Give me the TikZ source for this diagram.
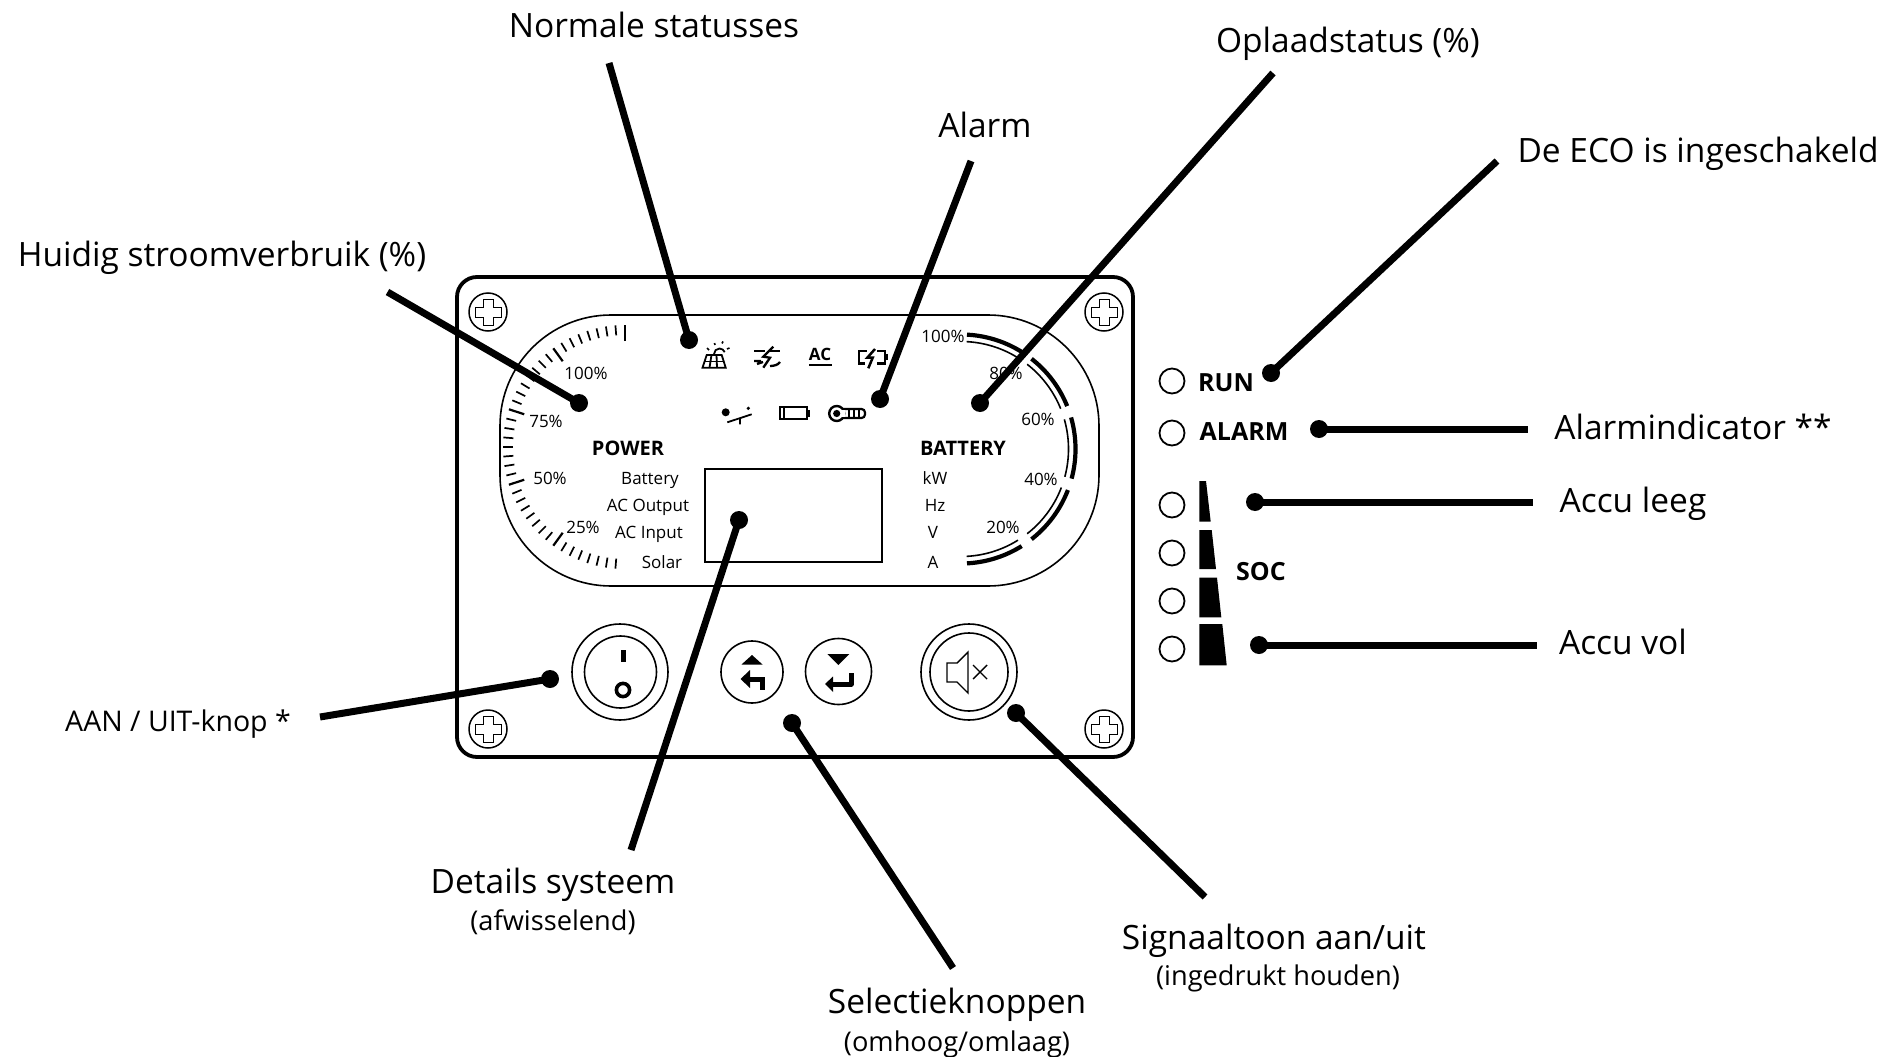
\documentclass[tikz,border=0pt]{standalone}
\usepackage{fontspec}
\setmainfont{Open Sans}
\newcommand{\fsz}[1]{\fontsize{#1}{#1}\selectfont}
\tikzset{
 x=1pt,y=-1pt,
 every node/.style={inner sep=0pt,outer sep=0pt,text=black},
 biglabel/.style={font=\fsz{33.5}},
 sublabel/.style={font=\fsz{27.2}},
 midlabel/.style={font=\fsz{28.5}},
 gaugelabel/.style={font=\fsz{17}},
 boldgauge/.style={font=\fsz{20}\bfseries},
 ledlabel/.style={font=\fsz{25}\bfseries},
 conn/.style={line width=7pt,black},
 anchordot/.style={circle,fill=black,minimum size=18pt},
 led/.style={circle,draw=black,line width=1.8pt,minimum size=25pt},
 thin line/.style={line width=1.6pt,black},
 icon/.style={line width=1.8pt,black},
 iconb/.style={line width=2.5pt,black},
 screwhead/.style={circle,draw=black,line width=1.5pt,minimum size=38pt},
 crossline/.style={line width=0.9pt,black},
 tick/.style={line width=1.7pt,black},
 majortick/.style={line width=2.2pt,black},
 thick arc/.style={line width=4.2pt,black},
 thin arc/.style={line width=1.6pt,black},
}
\newcommand{\crossat}[2]{\draw[crossline,shift={(#1,#2)}] (-5,-13)--(5,-13)--(5,-5)--(13,-5)--(13,5)--(5,5)--(5,13)--(-5,13)--(-5,5)--(-13,5)--(-13,-5)--(-5,-5)--cycle;}
\newcommand{\battarc}[2]{%
 \draw[thick arc] plot[domain=#1:#2,samples=30,smooth] ({961+114.5*cos(\x)},{449-114.5*sin(\x)});
 \draw[thin arc] plot[domain=#1:#2,samples=30,smooth] ({961+107.5*cos(\x)},{449-107.5*sin(\x)});}
\begin{document}
\begin{tikzpicture}
\useasboundingbox (0,0) rectangle (1899,1057);
\fill[white] (0,0) rectangle (1899,1057);
% panel
\draw[line width=3.8pt,rounded corners=20pt] (457,277) rectangle (1133,757);
\draw[thin line,rounded corners=111pt] (500,315) rectangle (1099,586);
% screws
\node[screwhead] (s1) at (488,312) {}; \crossat{488}{312}
\node[screwhead] (s2) at (1104,312) {}; \crossat{1104}{312}
\node[screwhead] (s3) at (488,729) {}; \crossat{488}{729}
\node[screwhead] (s4) at (1104,729) {}; \crossat{1104}{729}
% power ticks
\foreach \i in {0,...,39}{
  \pgfmathsetmacro{\a}{90+4.5*\i}
  \pgfmathtruncatemacro{\m}{mod(\i,8)}
  \ifnum\m=0
    \draw[majortick] ({625+106*cos(\a)},{447-106*sin(\a)}) -- ({625+122*cos(\a)},{447-122*sin(\a)});
  \else
    \draw[tick] ({625+112*cos(\a)},{447-112*sin(\a)}) -- ({625+122*cos(\a)},{447-122*sin(\a)});
  \fi
}
% battery arcs
\battarc{87}{58}\battarc{52}{22}\battarc{16}{-15}\battarc{-21}{-52}\battarc{-58}{-87}
% gauge labels
\node[gaugelabel] (p100) at (586,373) {100\%};
\node[gaugelabel] (p75) at (546,421) {75\%};
\node[gaugelabel] (p50) at (550,478) {50\%};
\node[gaugelabel] (p25) at (583,527) {25\%};
\node[boldgauge] (power) at (628,448) {POWER};
\node[gaugelabel] (lbat) at (650,480) {Battery};
\node[gaugelabel] (lout) at (648,507) {AC Output};
\node[gaugelabel] (linp) at (649,534) {AC Input};
\node[gaugelabel] (lsol) at (662,562) {Solar};
\node[boldgauge] (battery) at (963,448) {BATTERY};
\node[gaugelabel] (ukw) at (935,478) {kW};
\node[gaugelabel] (uhz) at (935,505) {Hz};
\node[gaugelabel] (uv) at (933,532) {V};
\node[gaugelabel] (ua) at (933,562) {A};
\node[gaugelabel] (b100) at (943,336) {100\%};
\node[gaugelabel] (b60) at (1038,419) {60\%};
\node[gaugelabel] (b40) at (1041,479) {40\%};
\node[gaugelabel] (b20) at (1003,527) {20\%};
\node[gaugelabel] (b80) at (1006,373) {80\%};
% display
\draw[line width=1.9pt] (705,469) rectangle (882,562);
% solar icon
\draw[icon] (702.5,367.7)--(725.7,367.7)--(721.7,355)--(706.7,355)--cycle;
\draw[icon] (704.5,361.5)--(723.7,361.5);
\draw[icon] (711.5,355)--(709.5,367.7) (716.5,355)--(717,367.7);
\draw[icon] (714,354) arc[start angle=180,end angle=20,radius=5.5pt];
\draw[line width=1.6pt] (709,350)--(707,348) (715,345)--(714.5,343) (722,343.5)--(723,341.5) (727,349)--(729.5,348);
% inverter icon
\draw[iconb,line width=2.3pt] (754.3,351)--(765,351) (770,351)--(780,351);
\draw[iconb,line width=2.3pt] (773.3,346.7)--(763.3,356.7)--(770,357.7)--(763.3,367.7);
\draw[iconb,line width=2.3pt] (754,361)--(761,361) (757,364)--(763,362);
\draw[iconb,line width=2.3pt] (770,366) .. controls (774,366) and (778,365) .. (780,362);
% AC icon
\node[font=\fsz{17}\bfseries] (acicon) at (820,354) {AC};
\draw[line width=2.5pt] (809,365)--(831.7,365);
% charging icon
\draw[iconb] (866.7,351)--(859,351)--(859,363.3)--(865,363.3);
\draw[iconb] (877.3,351)--(885,351)--(885,363.3)--(877,363.3);
\fill (885.5,354) rectangle (888,360);
\draw[iconb] (875,349)--(867.3,357.7)--(872.7,357.7)--(868.3,368.3);
% lever icon
\fill (725.7,412.3) circle (4pt);
\fill (748.3,408.3) circle (1.8pt);
\draw[icon] (727.3,422.3)--(751.7,414.3) (740,419)--(740,424.3);
% battery icon
\draw[line width=1.8pt] (780,407) rectangle (806.7,419);
\draw[line width=1.2pt] (784,407)--(784,419);
\fill (806.7,409.7) rectangle (810,417);
% thermometer icon
\draw[line width=2.2pt,rounded corners=3.5pt] (838,409) rectangle (865,418);
\node[circle,draw,fill=white,line width=2.4pt,minimum size=15pt] (tbulb) at (836.7,413.5) {};
\fill (836.7,413.5) circle (3.6pt);
\fill[white] (841,410) rectangle (844.6,417);
\draw[line width=1.3pt] (849,410)--(849,417) (854,410)--(854,417) (859,410)--(859,417);
% power button
\node[circle,draw,line width=1.6pt,minimum size=96pt] (bonout) at (620,672) {};
\node[circle,draw,line width=1.6pt,minimum size=72pt] (bonin) at (620.5,672) {};
\draw[line width=5pt] (623,650)--(623,662);
\draw[line width=3.6pt] (623,690) circle (6.6pt);
% back button
\node[circle,draw,line width=1.6pt,minimum size=62pt] (bback) at (752,672) {};
\fill (752,655)--(762.5,664.5)--(741.5,664.5)--cycle;
\fill (740.5,679)--(750,670)--(750,688)--cycle;
\draw[line width=5pt] (750,679)--(762,679)--(762,690);
% enter button
\node[circle,draw,line width=1.6pt,minimum size=66pt] (benter) at (838.5,671.5) {};
\fill (827.3,654)--(849.3,654)--(838.3,665)--cycle;
\fill (825,684)--(833,676.5)--(833,692)--cycle;
\draw[line width=5pt,line join=round] (833,684)--(851,684)--(851,673);
% sound button
\node[circle,draw,line width=1.6pt,minimum size=96pt] (bsndout) at (969,672) {};
\node[circle,draw,line width=1.6pt,minimum size=78pt] (bsndin) at (969,672) {};
\draw[line width=1.4pt] (947,663)--(957,663)--(968,652)--(968,693)--(957,682)--(947,682)--cycle;
\draw[line width=1.4pt] (973,665)--(987,679) (987,665)--(973,679);
% LEDs
\node[led] (l1) at (1172,381) {};
\node[led] (l2) at (1172,433) {};
\node[led] (l3) at (1172,505) {};
\node[led] (l4) at (1172,553) {};
\node[led] (l5) at (1172,601) {};
\node[led] (l6) at (1172,649) {};
\node[ledlabel] (run) at (1226,383) {RUN};
\node[ledlabel] (alarm) at (1244,432) {ALARM};
\node[ledlabel] (soc) at (1261,572) {SOC};
% wedges
\fill (1199.3,481)--(1206,481)--(1210.7,521.7)--(1199.3,521.7)--cycle;
\fill (1199.3,530)--(1211.7,530)--(1216,569)--(1199.3,569)--cycle;
\fill (1199.3,577.7)--(1217,577.7)--(1221.3,617.3)--(1199.3,617.3)--cycle;
\fill (1199.3,624)--(1222.3,624)--(1226.7,665.3)--(1199.3,665.3)--cycle;
% connector anchors and free ends
\node[anchordot] (dnorm) at (689,340) {};   \coordinate (enorm) at (609,63);
\node[anchordot] (dcur) at (579,403) {};    \coordinate (ecur) at (387.5,292);
\node[anchordot] (dalarm) at (880,399) {};  \coordinate (ealarm) at (971,161);
\node[anchordot] (dsoc) at (980,403) {};    \coordinate (esoc) at (1273,73);
\node[anchordot] (deco) at (1271,373) {};   \coordinate (eeco) at (1497,161);
\node[anchordot] (dind) at (1319,429) {};   \coordinate (eind) at (1528,429);
\node[anchordot] (dempty) at (1255,502) {}; \coordinate (eempty) at (1533,502);
\node[anchordot] (dfull) at (1259,645) {};  \coordinate (efull) at (1537,645);
\node[anchordot] (dpow) at (550,679) {};    \coordinate (epow) at (320,717);
\node[anchordot] (ddet) at (739,520) {};    \coordinate (edet) at (631,850);
\node[anchordot] (dsel) at (792,723) {};    \coordinate (esel) at (953,968);
\node[anchordot] (dsnd) at (1016,713) {};   \coordinate (esnd) at (1205,897);
\foreach \d/\e in {dnorm/enorm,dcur/ecur,dalarm/ealarm,dsoc/esoc,deco/eeco,dind/eind,dempty/eempty,dfull/efull,dpow/epow,ddet/edet,dsel/esel,dsnd/esnd}
  \draw[conn] (\d.center) -- (\e);
% labels
\node[biglabel] (tnorm) at (654,25) {Normale statusses};
\node[biglabel] (topl) at (1348,44) {Oplaadstatus (\%)};
\node[biglabel] (talarm) at (985,125) {Alarm};
\node[biglabel] (teco) at (1698,154) {De ECO is ingeschakeld};
\node[biglabel] (tcur) at (222,258) {Huidig stroomverbruik (\%)};
\node[biglabel] (tind) at (1693,427) {Alarmindicator **};
\node[biglabel] (tempty) at (1633,504) {Accu leeg};
\node[biglabel] (tfull) at (1623,642) {Accu vol};
\node[midlabel] (tpow) at (178,724) {AAN / UIT-knop *};
\node[biglabel] (tdet) at (553,885) {Details systeem};
\node[sublabel] (tdet2) at (553,922) {(afwisselend)};
\node[biglabel] (tsel) at (957,1005) {Selectieknoppen};
\node[sublabel] (tsel2) at (957,1044) {(omhoog/omlaag)};
\node[biglabel] (tsnd) at (1274,941) {Signaaltoon aan/uit};
\node[sublabel] (tsnd2) at (1278,978) {(ingedrukt houden)};
\end{tikzpicture}
\end{document}
